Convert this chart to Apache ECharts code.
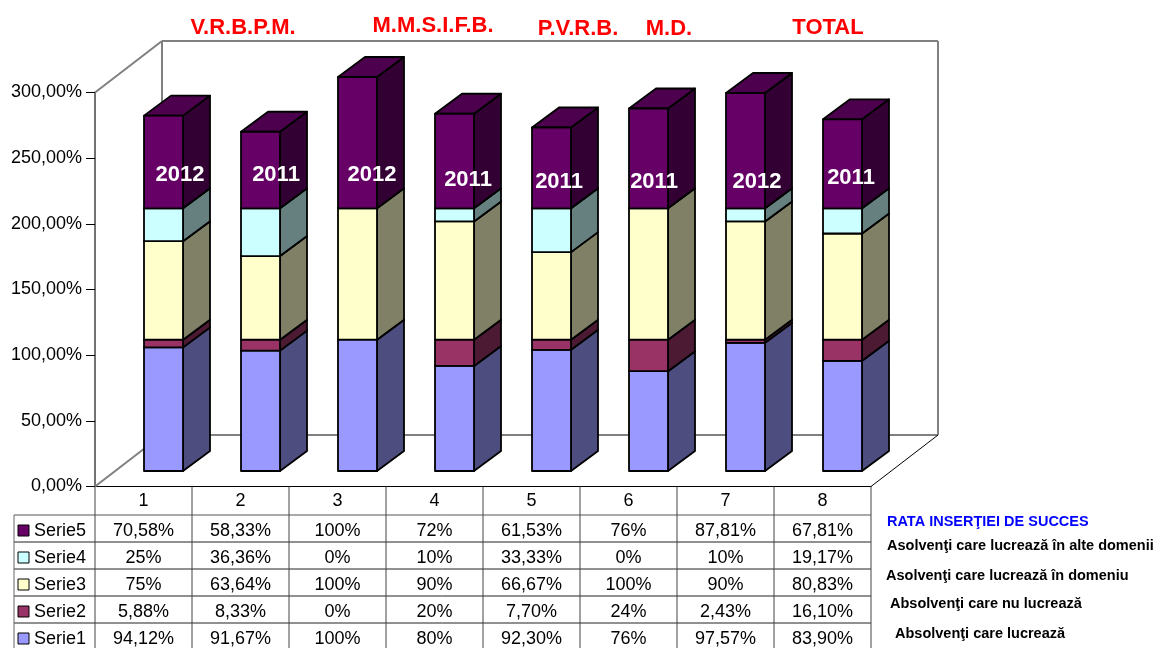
<!DOCTYPE html>
<html>
<head>
<meta charset="utf-8">
<script src="https://cdn.jsdelivr.net/npm/echarts@6/dist/echarts.min.js"></script>
<style>html,body{margin:0;padding:0;background:#fff}#c{width:1155px;height:648px}</style>
</head>
<body>
<div id="c"></div>
<script>
// ---- data ----
var categories = ['1','2','3','4','5','6','7','8'];
var serie1 = [94.12, 91.67, 100, 80, 92.30, 76, 97.57, 83.90];
var serie2 = [5.88, 8.33, 0, 20, 7.70, 24, 2.43, 16.10];
var serie3 = [75, 63.64, 100, 90, 66.67, 100, 90, 80.83];
var serie4 = [25, 36.36, 0, 10, 33.33, 0, 10, 19.17];
var serie5 = [70.58, 58.33, 100, 72, 61.53, 76, 87.81, 67.81];
var seriesNames = ['Serie1','Serie2','Serie3','Serie4','Serie5'];
var yearLabels = ['2012','2011','2012','2011','2011','2011','2012','2011'];
var groupTitles = ['V.R.B.P.M.','M.M.S.I.F.B.','P.V.R.B.','M.D.','TOTAL'];
var legendTitle = 'RATA INSERŢIEI DE SUCCES';
var legendNotes = ['Asolvenţi care lucrează în alte domenii','Asolvenţi care lucrează în domeniu','Absolvenţi care nu lucrează','Absolvenţi care lucrează'];

// ---- style / layout ----
var allSeries = [serie1, serie2, serie3, serie4, serie5];
var faceColors = ['#9999FF','#993366','#FFFFCC','#CCFFFF','#660066'];
var sideColors = ['#4D4D80','#4D1A33','#808066','#668080','#330033'];
var topColors  = ['#7373BF','#73264D','#BFBF99','#99BFBF','#4D004D'];
var FONT = '"Liberation Sans", Arial, sans-serif';
var GRID = {left:95, top:92.5, width:776, height:394};
var WALL = {dx:67, dy:-51.5};        // depth of the chart box
var BAR = {dx:27, dy:-20, w:39, ox:20, oy:-15.5};  // bar depth, width, front-plane offset
var rowLines = [515,542,569,596,623,650];
var titlePos = [[243,28],[433,26],[578,29],[669,29],[828,28]];
var yearPos = [[180,175],[276,175],[372,175],[468,180],[559,182],[654,182],[757,182],[851,178]];
var notePos = [[887,546],[886,576],[890,604],[895,634]];

function pctLabel(v){
  return (Number.isInteger(v) ? String(v) : v.toFixed(2).replace('.', ',')) + '%';
}

function renderFrame(params, api){
  var c = params.coordSys, x0=c.x, y0=c.y, x1=c.x+c.width, y1=c.y+c.height, dx=WALL.dx, dy=WALL.dy;
  var segs = [
    [[x0,y0],[x0+dx,y0+dy]],
    [[x0+dx,y0+dy],[x1+dx,y0+dy]],
    [[x1+dx,y0+dy],[x1+dx,y1+dy]],
    [[x0+dx,y0+dy],[x0+dx,y1+dy]],
    [[x0+dx,y1+dy],[x1+dx,y1+dy]],
    [[x0,y1],[x0+dx,y1+dy]]
  ];
  var kids = segs.map(function(s){
    return {type:'line', shape:{x1:s[0][0],y1:s[0][1],x2:s[1][0],y2:s[1][1]},
      style:{stroke:'#808080',lineWidth:2,fill:null}};
  });
  kids.push({type:'line', shape:{x1:x1,y1:y1,x2:x1+dx,y2:y1+dy}, style:{stroke:'#000',lineWidth:1,fill:null}});
  return {type:'group', children:kids};
}

function barRenderer(si){
  return function(params, api){
    var b = api.coord([api.value(0), api.value(1)]);
    var t = api.coord([api.value(0), api.value(2)]);
    var l = b[0]+BAR.ox-BAR.w/2, r = l+BAR.w, yb = b[1]+BAR.oy, yt = t[1]+BAR.oy;
    var ds = {stroke:'#000', lineWidth:1.8, lineJoin:'round'};
    function poly(pts, fill){
      return {type:'polygon', shape:{points:pts}, style:Object.assign({fill:fill}, ds)};
    }
    return {type:'group', children:[
      poly([[r,yb],[r+BAR.dx,yb+BAR.dy],[r+BAR.dx,yt+BAR.dy],[r,yt]], sideColors[si]),
      poly([[l,yt],[r,yt],[r+BAR.dx,yt+BAR.dy],[l+BAR.dx,yt+BAR.dy]], topColors[si]),
      poly([[l,yb],[r,yb],[r,yt],[l,yt]], faceColors[si])
    ]};
  };
}

function renderTable(params, api){
  var c = params.coordSys, x1=c.x+c.width, y1=c.y+c.height;
  var kids = [];
  var last = rowLines[rowLines.length-1];
  rowLines.forEach(function(y, i){
    kids.push({type:'line', shape:{x1:14,y1:y,x2:x1,y2:y}, style:{stroke:i===0?'#555':'#222',lineWidth:1}});
  });
  categories.forEach(function(cat, i){
    var cx = api.coord([i,0])[0], w = api.size([1,0])[0];
    kids.push({type:'line', shape:{x1:cx-w/2,y1:y1,x2:cx-w/2,y2:last}, style:{stroke:'#444',lineWidth:1}});
  });
  kids.push({type:'line', shape:{x1:x1,y1:y1,x2:x1,y2:last}, style:{stroke:'#444',lineWidth:1}});
  kids.push({type:'line', shape:{x1:14,y1:rowLines[0],x2:14,y2:last}, style:{stroke:'#666',lineWidth:1}});
  for(var r=0;r<5;r++){
    var si = 4-r, cy = rowLines[r]+14;
    kids.push({type:'rect', shape:{x:18,y:cy-4,width:11,height:11}, style:{fill:faceColors[si],stroke:'#000',lineWidth:1}});
    kids.push({type:'text', style:{text:seriesNames[si],x:34,y:cy+2,fontFamily:FONT,fontSize:18,fill:'#000',align:'left',verticalAlign:'middle'}});
    categories.forEach(function(cat,i){
      var cx = api.coord([i,0])[0];
      kids.push({type:'text', style:{text:pctLabel(allSeries[si][i]),x:cx,y:cy+2,fontFamily:FONT,fontSize:18,fill:'#000',align:'center',verticalAlign:'middle'}});
    });
  }
  return {type:'group', children:kids};
}

var seriesList = [
  {type:'custom', name:'frame', coordinateSystem:'cartesian2d', silent:true, z:1, renderItem:renderFrame, data:[[0,0]], clip:false},
  {type:'custom', name:'table', coordinateSystem:'cartesian2d', silent:true, z:1, renderItem:renderTable, data:[[0,0]], clip:false}
];
var base = categories.map(function(){return 0;});
allSeries.forEach(function(vals, si){
  var d = [];
  vals.forEach(function(v,i){
    if(v>0) d.push([i, base[i], base[i]+v]);
    base[i]+=v;
  });
  seriesList.push({type:'custom', name:seriesNames[si], coordinateSystem:'cartesian2d', silent:true, z:3+si,
    renderItem:barRenderer(si), encode:{x:0,y:[1,2]}, data:d, clip:false});
});

var graphics = [];
groupTitles.forEach(function(t,i){
  graphics.push({type:'text', z:20, x:titlePos[i][0], y:titlePos[i][1],
    style:{text:t, fontFamily:FONT, fontWeight:'bold', fontSize:22, fill:'#FF0000', align:'center', verticalAlign:'middle'}});
});
yearLabels.forEach(function(t,i){
  graphics.push({type:'text', z:20, x:yearPos[i][0], y:yearPos[i][1],
    style:{text:t, fontFamily:FONT, fontWeight:'bold', fontSize:22, fill:'#FFFFFF', align:'center', verticalAlign:'middle'}});
});
graphics.push({type:'text', z:20, x:887, y:522,
  style:{text:legendTitle, fontFamily:FONT, fontWeight:'bold', fontSize:14.5, fill:'#0000FF', align:'left', verticalAlign:'middle'}});
legendNotes.forEach(function(t,i){
  graphics.push({type:'text', z:20, x:notePos[i][0], y:notePos[i][1],
    style:{text:t, fontFamily:FONT, fontWeight:'bold', fontSize:14.5, fill:'#000', align:'left', verticalAlign:'middle'}});
});

var chart = echarts.init(document.getElementById('c'), null, {renderer:'canvas'});
chart.setOption({
  animation:false,
  backgroundColor:'#fff',
  grid:GRID,
  xAxis:{type:'category', data:categories, axisLine:{lineStyle:{color:'#000',width:1}}, axisTick:{show:false},
    axisLabel:{fontFamily:FONT,fontSize:18,color:'#000',margin:6}, splitLine:{show:false}},
  yAxis:{type:'value', min:0, max:300, interval:50,
    axisLine:{show:true,lineStyle:{color:'#444',width:1.5}},
    axisTick:{show:true,length:9,lineStyle:{color:'#000',width:1}},
    axisLabel:{fontFamily:FONT,fontSize:18,color:'#000',margin:13,
      formatter:function(v){return v.toFixed(2).replace('.',',')+'%';}},
    splitLine:{show:false}},
  series:seriesList,
  graphic:{elements:graphics}
});
</script>
</body>
</html>
